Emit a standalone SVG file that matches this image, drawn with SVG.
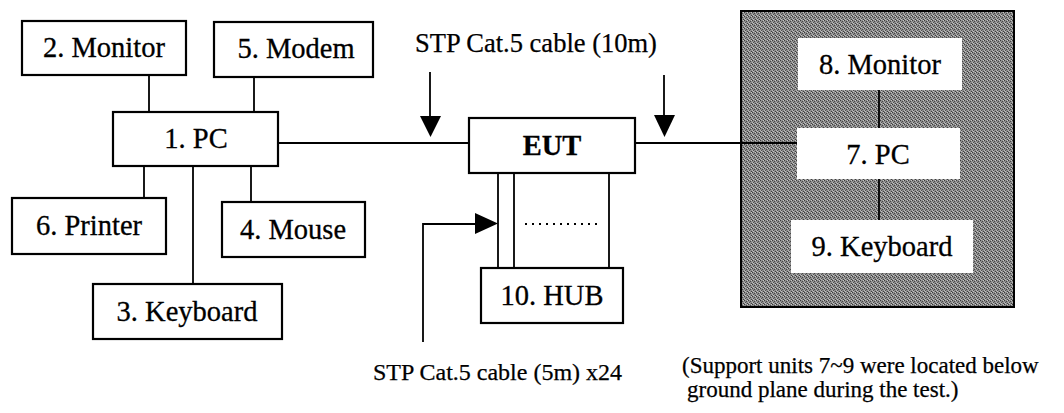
<svg xmlns="http://www.w3.org/2000/svg" width="1064" height="413" viewBox="0 0 1064 413">
<style>
.box{fill:#fff;stroke:#000;stroke-width:2.2}
.wbox{fill:#fff;stroke:none}
.t{font-family:"Liberation Serif","Times New Roman",serif;font-size:28.5px;fill:#000;text-anchor:middle;stroke:#000;stroke-width:0.3}
.tb{font-weight:bold}
.lbl{font-family:"Liberation Serif","Times New Roman",serif;fill:#000;stroke:#000;stroke-width:0.25}
.ln{stroke:#000;stroke-width:1.8;fill:none}
</style>
<defs>
<pattern id="dither" width="4" height="4" patternUnits="userSpaceOnUse">
<rect width="4" height="4" fill="#8c8c8c"/>
<rect x="0" y="0" width="1" height="1" fill="#3c3c3c"/>
<rect x="2" y="1" width="1" height="1" fill="#474747"/>
<rect x="1" y="2" width="1" height="1" fill="#505050"/>
<rect x="3" y="3" width="1" height="1" fill="#3f3f3f"/>
<rect x="3" y="0" width="1" height="1" fill="#c8c8c8"/>
<rect x="1" y="3" width="1" height="1" fill="#c2c2c2"/>
<rect x="0" y="2" width="1" height="1" fill="#b8b8b8"/>
</pattern>
</defs>

<g id="ground-plane">
<rect x="741" y="11" width="273" height="296" fill="url(#dither)" stroke="#000" stroke-width="2"/>
</g>

<g id="connectors">
<line class="ln" x1="149" y1="75" x2="149" y2="112"/>
<line class="ln" x1="254" y1="77" x2="254" y2="112"/>
<line class="ln" x1="144" y1="166" x2="144" y2="198"/>
<line class="ln" x1="193" y1="166" x2="193" y2="284"/>
<line class="ln" x1="251" y1="166" x2="251" y2="202"/>
<line class="ln" x1="278" y1="143" x2="469" y2="143"/>
<line class="ln" x1="635" y1="143" x2="797" y2="143"/>
<line class="ln" x1="498" y1="173" x2="498" y2="268"/>
<line class="ln" x1="514" y1="173" x2="514" y2="268"/>
<line class="ln" x1="609" y1="173" x2="609" y2="268"/>
<line x1="525" y1="224" x2="601" y2="224" stroke="#000" stroke-width="2" stroke-dasharray="2 5"/>
<line class="ln" x1="879" y1="90" x2="879" y2="128"/>
<line class="ln" x1="879" y1="179" x2="879" y2="220"/>
<line class="ln" x1="430" y1="72" x2="430" y2="117"/>
<path d="M420,116 L441,116 L430.5,137 Z" fill="#000"/>
<line class="ln" x1="664" y1="75" x2="664" y2="116"/>
<path d="M654,115 L675,115 L664.5,137 Z" fill="#000"/>
<path class="ln" d="M423,342 L423,224 L476,224"/>
<path d="M475,213 L498,223.5 L475,234 Z" fill="#000"/>
</g>

<g id="n2-monitor"><rect class="box" x="22" y="21" width="164" height="54"/><text class="t" x="104" y="57">2. Monitor</text></g>
<g id="n5-modem"><rect class="box" x="214" y="22" width="159" height="55"/><text class="t" x="296" y="58">5. Modem</text></g>
<g id="n1-pc"><rect class="box" x="113" y="112" width="165" height="54"/><text class="t" x="196" y="148">1. PC</text></g>
<g id="n6-printer"><rect class="box" x="12" y="198" width="154" height="56"/><text class="t" x="89" y="235">6. Printer</text></g>
<g id="n4-mouse"><rect class="box" x="222" y="202" width="143" height="55"/><text class="t" x="293" y="239">4. Mouse</text></g>
<g id="n3-keyboard"><rect class="box" x="93" y="284" width="189" height="55"/><text class="t" x="187" y="321">3. Keyboard</text></g>
<g id="eut"><rect class="box" x="469" y="118" width="166" height="55"/><text class="t tb" x="552" y="155">EUT</text></g>
<g id="n10-hub"><rect class="box" x="481" y="268" width="142" height="55"/><text class="t" x="552" y="305">10. HUB</text></g>
<g id="n8-monitor"><rect class="wbox" x="798" y="38" width="164" height="52"/><text class="t" x="880" y="74">8. Monitor</text></g>
<g id="n7-pc"><rect class="wbox" x="797" y="128" width="163" height="51"/><text class="t" x="878" y="164">7. PC</text></g>
<g id="n9-keyboard"><rect class="wbox" x="791" y="220" width="182" height="53"/><text class="t" x="882" y="256">9. Keyboard</text></g>

<g id="labels">
<text class="lbl" x="415" y="52" font-size="26.5">STP Cat.5 cable (10m)</text>
<text class="lbl" x="373" y="380" font-size="24">STP Cat.5 cable (5m) x24</text>
<text class="lbl" x="682" y="373" font-size="23">(Support units 7~9 were located below</text>
<text class="lbl" x="687" y="397" font-size="23">ground plane during the test.)</text>
</g>
</svg>
